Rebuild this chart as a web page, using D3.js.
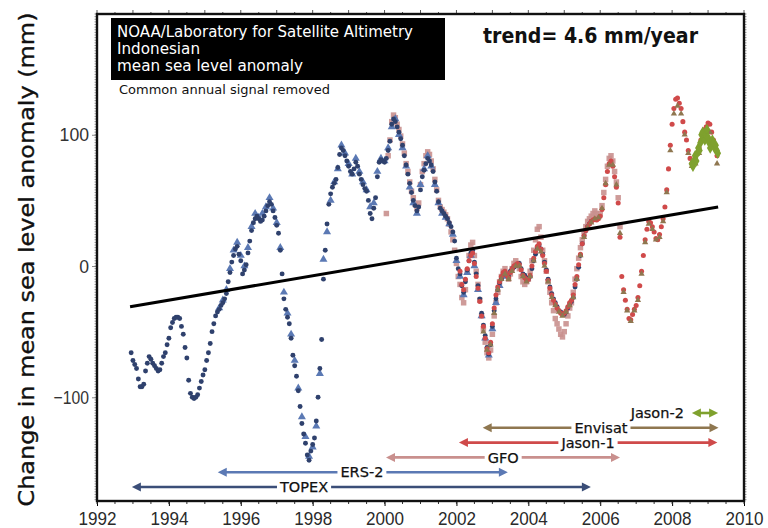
<!DOCTYPE html>
<html>
<head>
<meta charset="utf-8">
<script src="https://cdn.jsdelivr.net/npm/d3@7"></script>
<style>
  body { margin: 0; background: #fff; }
  svg { display: block; }
</style>
</head>
<body>
<div id="chartDiv"></div>
<script>
var width = 768;
var height = 528;

// ---- data ----
var yearTicks = [1992, 1994, 1996, 1998, 2000, 2002, 2004, 2006, 2008, 2010];
var mmTicks = [-100, 0, 100];

// TOPEX, every 0.05 yr from 1992.95
var topexStart = 1992.95, topexStep = 0.05;
var topexValues = [-66,
  -72,-75,-78,-86,-92,-92,-90,-80,-74,-69,-71,-74,-76,-78,-80,-79,-74,-69,-66,-60,
  -55,-47,-43,-40,-39,-39,-40,-46,-52,-62,-70,-87,-97,-100,-101,-100,-98,-93,-88,-83,
  -79,-72,-66,-59,-50,-44,-38,-35,-33,-30,-28,-25,-21,-12,-5,3,8,13,15,9,
  4,-6,-3,1,10,19,27,33,36,38,36,34,35,38,42,46,49,47,42,37,
  31,25,12,-6,-25,-33,-39,-44,-55,-68,-76,-84,-95,-107,-120,-128,-135,-144,-148,-141,
  -136,-131,-118,-100,-78,-56,-10,12,32,47,55,60,63,66,75,85,90,88,84,80,
  76,72,70,74,79,76,70,66,62,59,57,50,40,36,44,52,68,79,81,80,
  79,82,88,95,108,112,110,106,102,97,92,84,77,70,63,56,50,46,42,45,
  58,68,73,78,82,80,77,72,64,57,49,44,42,40,38,36,33,30,26,19,
  6,-2,-6,-15,-20,-12,-3,4,10,12,3,-6,-15,-25,-36,-45,-53,-62,-67,-60,
  -46,-34,-25,-18,-13,-10,-6,-5,-7,-8,-4,-2,-1,0,1,2,-2,-6,-7,-9,
  -10,-8,-2,4,9,14,16,13,9,3,-3,-10,-16,-21,-25,-28,-31,-34,-35,-36,
  -37,-35,-32,-29,-27,-24,-16,-10,-1,8,17,23,27,30,32,34];

// ERS-2, every 0.1 yr from 1995.4
var ersStart = 1995.4, ersStep = 0.1;
var ersValues = [
  -32,-26,-18,-2,12,18,8,0,14,30,
  40,37,40,45,52,44,33,14,-20,-36,
  -52,-72,-93,-115,-130,-145,-138,-122,-82,5,
  26,50,64,74,92,86,78,70,82,72,
  64,58,45,48,72,82,80,90,106,112,
  100,90,76,60,48,40,62,74,84,76,
  62,48,40,37,32,24,4,-8,-22,-5,
  8,0,-18,-38,-55,-68,-48,-28,-15,-8];

// GFO, every 0.05 yr from 2000.05
var gfoStart = 2000.05, gfoStep = 0.05;
var gfoValues = [
  40,84,96,110,115,113,108,104,99,93,
  86,78,72,64,57,52,47,44,48,62,
  72,78,84,87,85,80,74,66,58,50,
  45,43,41,39,36,32,26,20,12,2,
  -8,-14,-24,-28,-18,-4,8,16,18,8,
  -4,-14,-26,-38,-48,-58,-66,-70,-64,-52,
  -38,-28,-20,-12,-8,-4,-2,-6,-10,-6,
  -2,2,4,2,-2,-8,-12,-14,-12,-10,
  -4,4,12,20,28,30,22,12,4,-4,
  -12,-20,-28,-34,-40,-44,-48,-52,-54,-50,
  -44,-38,-32,-28,-20,-10,-2,6,14,20,
  26,30,34,36,38,40,42,40,38,40,
  46,56,66,76,82,84,80,72,64,52,30];

// Jason-1, every 0.05 yr from 2002.10
var jason1Start = 2002.10, jason1Step = 0.05;
var jason1Values = [
  -4,-14,-18,-10,-2,4,8,10,2,-8,
  -17,-27,-38,-46,-55,-63,-66,-58,-44,-32,
  -22,-16,-12,-8,-5,-4,-7,-9,-5,-2,
  0,1,2,1,-3,-7,-9,-11,-10,-7,
  0,6,11,15,17,13,8,2,-4,-11,
  -17,-22,-26,-29,-32,-34,-36,-37,-36,-34,
  -31,-28,-26,-22,-14,-8,1,9,17,23,
  27,30,32,34,35,36,35,36,38,43,
  52,62,72,78,80,76,68,60,48,22,
  -8,-18,-26,-33,-40,-41,-37,-33,-30,-24,
  -15,-4,8,20,28,34,33,30,26,21,
  20,24,30,36,45,58,74,92,108,120,
  127,128,124,120,110,102,96,88,82,78,
  79,82,86,90,96,100,104,106,109,108,
  102,96,92,84];

// Envisat, every 0.1 yr from 2002.75
var envisatStart = 2002.75, envisatStep = 0.1;
var envisatValues = [
  -50,-64,-60,-36,-18,-10,-6,-10,-4,0,
  0,-8,-12,-8,4,13,11,0,-12,-24,
  -30,-35,-38,-35,-30,-24,-10,8,22,29,
  33,36,37,44,63,77,77,62,25,-20,
  -34,-42,-34,-26,-6,18,32,28,20,22,
  34,56,88,116,122,116,100,86,76,78,
  86,96,100,102,92,78];

// Jason-2, every 0.03 yr from 2008.55
var jason2Start = 2008.55, jason2Step = 0.03;
var jason2Values = [78,76,80,84,80,86,90,88,94,100,102,98,96,100,104,98,94,90,92,96,94,90,92,88,86];

// linear trend (4.6 mm/year)
var trendYears = [1992.92, 2009.28];
var trendValues = [-31, 45];

// mission spans
var missionNames = ["TOPEX", "ERS-2", "GFO", "Jason-1", "Envisat", "Jason-2"];
var missionStart = [1992.97, 1995.36, 2000.04, 2002.07, 2002.73, 2008.55];
var missionEnd   = [2005.74, 2003.43, 2006.55, 2009.26, 2009.29, 2009.28];
var missionLabelAt = [1997.76, 1999.37, 2003.30, 2005.66, 2006.02, null];
var missionColors = ["#3b4e78", "#5b79b4", "#c9908e", "#cf4a4a", "#8f7750", "#7fa12e"];

// ---- scales ----
var x = d3.scaleLinear().domain([1992, 2010]).range([97, 744]);
var y = d3.scaleLinear().domain([-179, 192]).range([501, 14]);

var svg = d3.select("#chartDiv")
    .append("svg")
    .attr("width", width)
    .attr("height", height)
    .style("font-family", "'DejaVu Sans', sans-serif");

svg.append("clipPath").attr("id", "plotClip")
  .append("rect")
    .attr("x", x(1992)).attr("y", y(192))
    .attr("width", x(2010) - x(1992)).attr("height", y(-179) - y(192));

// ---- axes ----
var xAxis = svg.append("g")
    .attr("transform", `translate(0,${y(-179)})`)
    .call(d3.axisBottom(x).tickValues(yearTicks).tickFormat(d3.format("d")).tickSize(5).tickPadding(6));
xAxis.select(".domain").remove();
xAxis.selectAll("text")
    .attr("font-size", 19).attr("fill", "#2a2a2a")
    .attr("textLength", 38).attr("lengthAdjust", "spacingAndGlyphs");

// minor ticks bottom / top
svg.append("g").selectAll("line")
  .data(x.ticks(36))
  .join("line")
    .attr("x1", d => x(d)).attr("x2", d => x(d))
    .attr("y1", y(-179)).attr("y2", y(-179) + 3)
    .attr("stroke", "#333");
svg.append("g").selectAll("line")
  .data(x.ticks(36))
  .join("line")
    .attr("x1", d => x(d)).attr("x2", d => x(d))
    .attr("y1", y(192)).attr("y2", d => y(192) - (d % 1 === 0 ? 4 : 2))
    .attr("stroke", "#555");

var yAxis = svg.append("g")
    .attr("transform", `translate(${x(1992)},0)`)
    .call(d3.axisLeft(y).tickValues(mmTicks).tickFormat(d3.format("d")).tickSize(5).tickPadding(3));
yAxis.select(".domain").remove();
yAxis.selectAll("line").attr("stroke", "#888");
yAxis.selectAll("text")
    .attr("font-size", 19).attr("fill", "#333")
    .attr("textLength", d => String(Math.abs(d)).length * 9.8 + (d < 0 ? 6 : 0))
    .attr("lengthAdjust", "spacingAndGlyphs");

// dense minor ticks on left / right give the dashed edge
svg.append("g").selectAll("line")
  .data(y.ticks(185))
  .join("line")
    .attr("x1", x(1992) - 2.5).attr("x2", x(1992))
    .attr("y1", d => y(d)).attr("y2", d => y(d))
    .attr("stroke", "#777").attr("stroke-width", 0.8);
svg.append("g").selectAll("line")
  .data(y.ticks(185))
  .join("line")
    .attr("x1", x(2010)).attr("x2", x(2010) + 2.5)
    .attr("y1", d => y(d)).attr("y2", d => y(d))
    .attr("stroke", "#777").attr("stroke-width", 0.8);

svg.append("text")
    .attr("transform", `translate(34,${(y(192) + y(-179)) / 2 + 2}) rotate(-90)`)
    .attr("text-anchor", "middle")
    .attr("font-size", 21)
    .attr("fill", "#111")
    .attr("stroke", "#111").attr("stroke-width", 0.35)
    .attr("textLength", 494).attr("lengthAdjust", "spacingAndGlyphs")
    .text("Change in mean sea level anomaly (mm)");

// ---- data points ----
var plot = svg.append("g").attr("clip-path", "url(#plotClip)");

function drawSeries(start, step, values, symbol, size, color, opacity) {
  var pts = values.map((v, i) => [start + i * step, v]);
  plot.append("g").selectAll("path")
    .data(pts)
    .join("path")
      .attr("transform", d => `translate(${x(d[0])},${y(d[1])})`)
      .attr("d", d3.symbol(symbol, size))
      .attr("fill", color)
      .attr("fill-opacity", opacity);
}

drawSeries(gfoStart, gfoStep, gfoValues, d3.symbolSquare, 30, "#c9908e", 0.9);
drawSeries(ersStart, ersStep, ersValues, d3.symbolTriangle, 28, "#5b79b4", 1);
drawSeries(topexStart, topexStep, topexValues, d3.symbolCircle, 19, "#2f416d", 1);
drawSeries(jason1Start, jason1Step, jason1Values, d3.symbolCircle, 20, "#d04a4a", 1);
drawSeries(envisatStart, envisatStep, envisatValues, d3.symbolTriangle2, 28, "#8f7750", 1);
drawSeries(jason2Start, jason2Step, jason2Values, d3.symbolDiamond, 38, "#7fa12e", 1);

// trend line
svg.append("line")
    .attr("x1", x(trendYears[0])).attr("y1", y(trendValues[0]))
    .attr("x2", x(trendYears[1])).attr("y2", y(trendValues[1]))
    .attr("stroke", "#000").attr("stroke-width", 3);

// ---- mission arrows ----
var arrows = svg.append("g");
missionNames.forEach((name, i) => {
  var yy = 487 - i * 14.8;
  var x0 = x(missionStart[i]), x1 = x(missionEnd[i]);
  var c = missionColors[i];
  var label = arrows.append("text")
      .attr("y", yy).attr("dy", "0.36em")
      .attr("font-size", 14.5).attr("fill", "#111")
      .attr("stroke", "#111").attr("stroke-width", 0.25)
      .text(name);
  var segs;
  if (missionLabelAt[i] === null) {
    label.attr("x", x0 - 8).attr("text-anchor", "end");
    segs = [[x0 + 5, x1 - 5]];
  } else {
    var cx = x(missionLabelAt[i]);
    label.attr("x", cx).attr("text-anchor", "middle");
    var w = label.node().getComputedTextLength();
    segs = [[x0 + 5, cx - w / 2 - 3], [cx + w / 2 + 3, x1 - 5]];
  }
  segs.forEach(s => {
    arrows.append("line")
      .attr("x1", s[0]).attr("x2", s[1]).attr("y1", yy).attr("y2", yy)
      .attr("stroke", c).attr("stroke-width", 2.6);
  });
  arrows.append("path").attr("d", `M${x0},${yy}l9,-4.5v9z`).attr("fill", c);
  arrows.append("path").attr("d", `M${x1},${yy}l-9,-4.5v9z`).attr("fill", c);
});

// ---- frame ----
svg.append("rect")
    .attr("x", x(1992)).attr("y", y(192))
    .attr("width", x(2010) - x(1992)).attr("height", y(-179) - y(192))
    .attr("fill", "none").attr("stroke", "#111").attr("stroke-width", 2.4);

// ---- title box ----
svg.append("rect")
    .attr("x", 111).attr("y", 18).attr("width", 334).attr("height", 62)
    .attr("fill", "#000");
var titleLines = ["NOAA/Laboratory for Satellite Altimetry", "Indonesian", "mean sea level anomaly"];
var titleWidths = [296, 83, 186];
svg.append("g").selectAll("text")
  .data(titleLines)
  .join("text")
    .attr("x", 117).attr("y", (d, i) => 37 + i * 17)
    .attr("font-size", 15).attr("fill", "#fff")
    .attr("textLength", (d, i) => titleWidths[i]).attr("lengthAdjust", "spacingAndGlyphs")
    .text(d => d);
svg.append("text")
    .attr("x", 119).attr("y", 94)
    .attr("font-size", 12).attr("fill", "#111")
    .attr("textLength", 211).attr("lengthAdjust", "spacingAndGlyphs")
    .text("Common annual signal removed");

svg.append("text")
    .attr("x", 483).attr("y", 43)
    .attr("font-size", 21).attr("font-weight", "bold").attr("fill", "#111")
    .attr("textLength", 215).attr("lengthAdjust", "spacingAndGlyphs")
    .text("trend= 4.6 mm/year");
</script>
</body>
</html>
